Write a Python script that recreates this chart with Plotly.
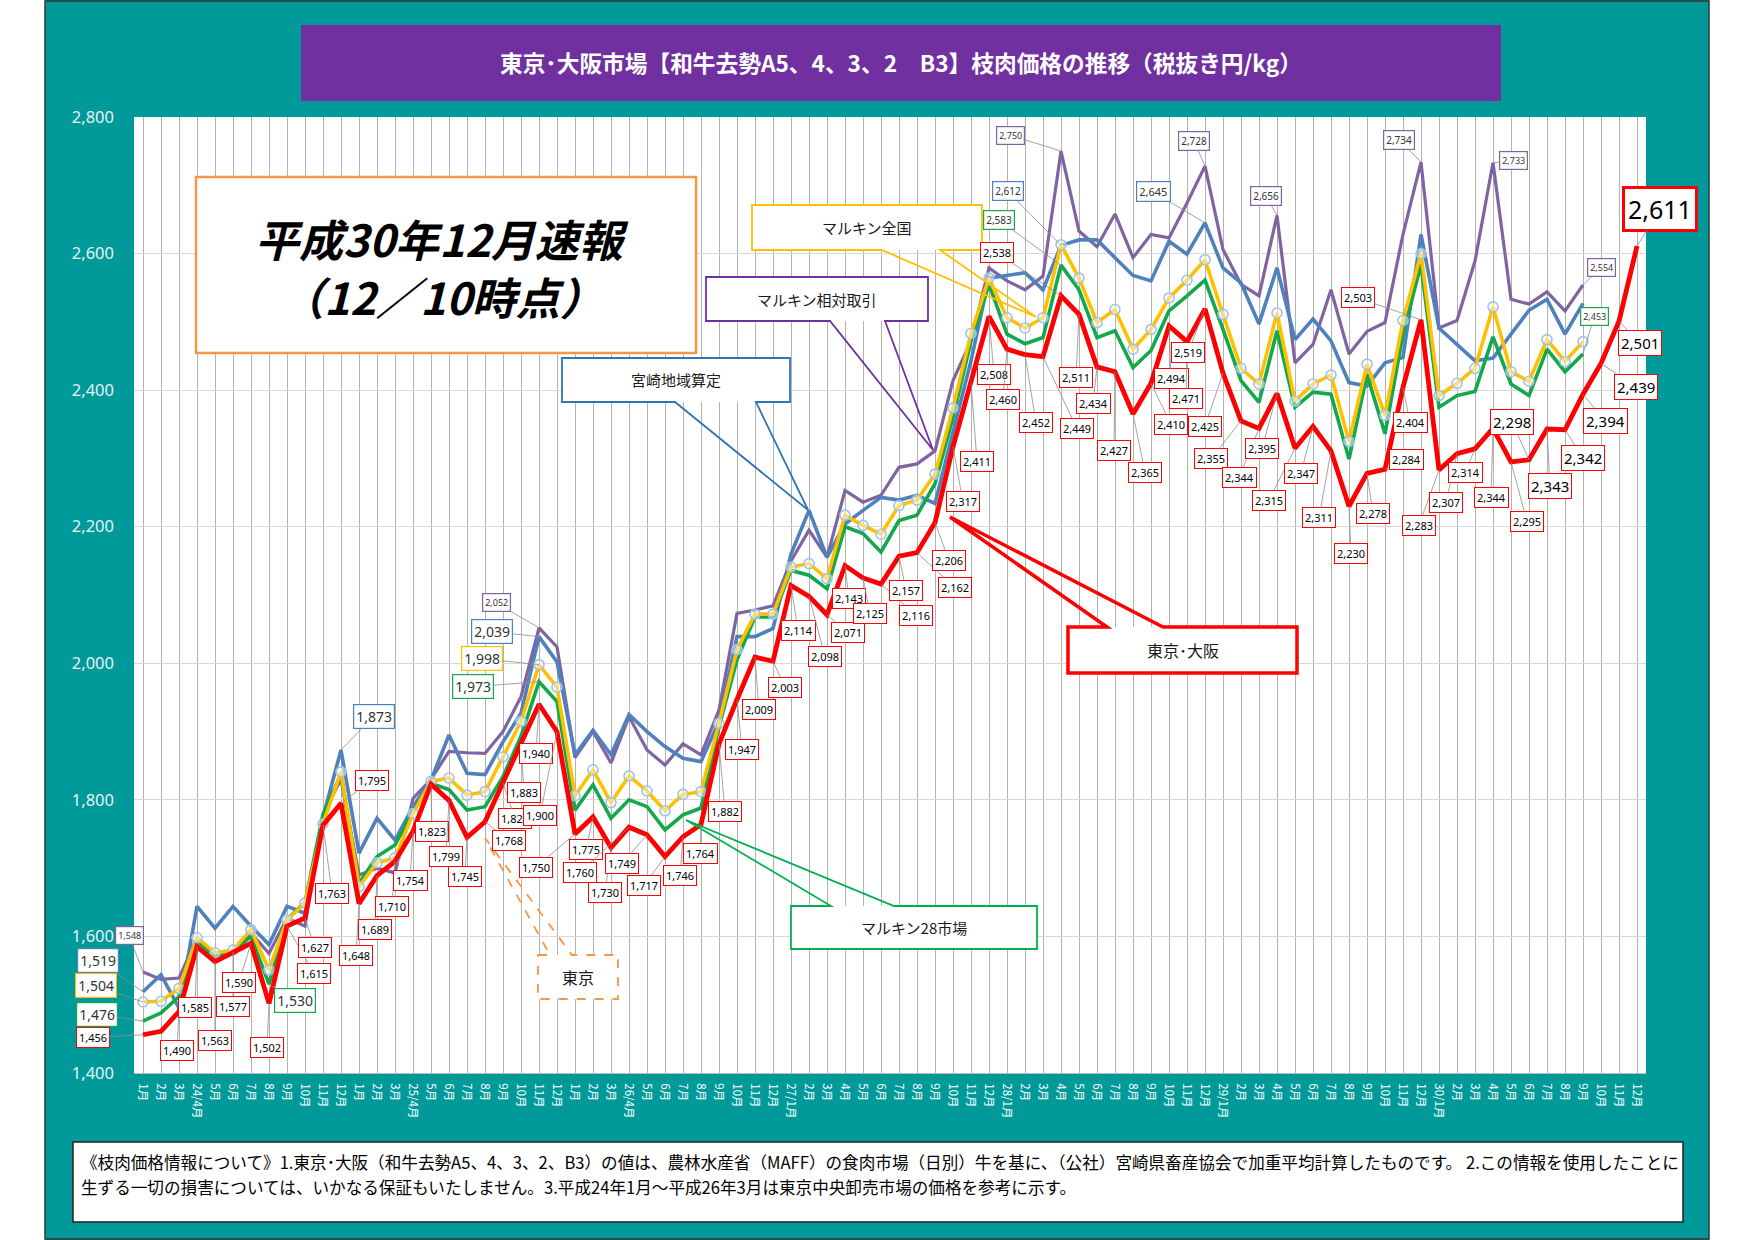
import plotly.graph_objects as go

# ---------------- data ----------------
tick_labels = [
    "1月", "2月", "3月", "24/4月", "5月", "6月", "7月", "8月", "9月", "10月", "11月", "12月",
    "1月", "2月", "3月", "25/4月", "5月", "6月", "7月", "8月", "9月", "10月", "11月", "12月",
    "1月", "2月", "3月", "26/4月", "5月", "6月", "7月", "8月", "9月", "10月", "11月", "12月",
    "27/1月", "2月", "3月", "4月", "5月", "6月", "7月", "8月", "9月", "10月", "11月", "12月",
    "28/1月", "2月", "3月", "4月", "5月", "6月", "7月", "8月", "9月", "10月", "11月", "12月",
    "29/1月", "2月", "3月", "4月", "5月", "6月", "7月", "8月", "9月", "10月", "11月", "12月",
    "30/1月", "2月", "3月", "4月", "5月", "6月", "7月", "8月", "9月", "10月", "11月", "12月",
]
month_index = list(range(len(tick_labels)))

# 東京・大阪 (red)
tokyo_osaka = [
    1456, 1461, 1490, 1585, 1563, 1577, 1590, 1502, 1615, 1627, 1763, 1795,
    1648, 1689, 1710, 1754, 1823, 1799, 1745, 1768, 1825, 1883, 1940, 1900,
    1750, 1775, 1730, 1760, 1749, 1717, 1746, 1764, 1882, 1947, 2009, 2003,
    2114, 2098, 2071, 2143, 2125, 2116, 2157, 2162, 2206, 2317, 2411, 2508,
    2460, 2452, 2449, 2538, 2511, 2434, 2427, 2365, 2410, 2494, 2471, 2519,
    2425, 2355, 2344, 2395, 2315, 2347, 2311, 2230, 2278, 2284, 2404, 2503,
    2283, 2307, 2314, 2344, 2295, 2298, 2343, 2342, 2394, 2439, 2501, 2611,
]
# マルキン相対取引 (purple)
marukin_aitai = [
    1548, 1537, 1539, 1598, 1572, 1580, 1605, 1575, 1627, 1615, 1780, 1830,
    1690, 1700, 1693, 1802, 1830, 1871, 1869, 1868, 1900, 1951, 2052, 2024,
    1862, 1900, 1854, 1922, 1873, 1851, 1882, 1866, 1932, 2073, 2078, 2084,
    2150, 2195, 2155, 2253, 2236, 2246, 2287, 2292, 2311, 2414, 2472, 2579,
    2560, 2547, 2567, 2750, 2633, 2610, 2658, 2594, 2628, 2623, 2674, 2728,
    2606, 2555, 2538, 2656, 2440, 2467, 2547, 2453, 2486, 2499, 2628, 2734,
    2491, 2502, 2589, 2733, 2533, 2526, 2544, 2516, 2554,
]
# 宮崎地域算定 (blue)
miyazaki = [
    1519, 1544, 1495, 1644, 1612, 1644, 1615, 1588, 1644, 1634, 1775, 1873,
    1722, 1773, 1741, 1790, 1829, 1895, 1839, 1837, 1885, 1927, 2039, 2002,
    1866, 1902, 1866, 1925, 1900, 1878, 1861, 1856, 1915, 2039, 2039, 2051,
    2160, 2224, 2155, 2204, 2224, 2243, 2239, 2246, 2234, 2340, 2443, 2564,
    2568, 2572, 2547, 2612, 2620, 2620, 2594, 2568, 2560, 2618, 2599, 2645,
    2579, 2557, 2497, 2579, 2474, 2504, 2472, 2411, 2406, 2440, 2448, 2628,
    2491, 2467, 2443, 2447, 2482, 2517, 2533, 2482, 2527,
]
# マルキン全国 (yellow)
marukin_zenkoku = [
    1504, 1505, 1524, 1598, 1576, 1580, 1610, 1551, 1624, 1649, 1765, 1841,
    1673, 1708, 1715, 1780, 1827, 1832, 1807, 1812, 1863, 1915, 1998, 1965,
    1806, 1844, 1796, 1835, 1813, 1784, 1808, 1812, 1912, 2020, 2072, 2072,
    2141, 2146, 2124, 2217, 2202, 2189, 2231, 2239, 2277, 2374, 2483, 2564,
    2506, 2491, 2506, 2613, 2564, 2499, 2518, 2460, 2489, 2535, 2561, 2591,
    2511, 2432, 2409, 2513, 2384, 2409, 2422, 2325, 2438, 2363, 2502, 2600,
    2392, 2410, 2432, 2522, 2427, 2413, 2474, 2442, 2471,
]
# マルキン28市場 (green)
marukin_28 = [
    1476, 1488, 1512, 1593, 1570, 1578, 1600, 1530, 1625, 1650, 1778, 1837,
    1678, 1717, 1734, 1783, 1824, 1815, 1785, 1790, 1834, 1893, 1973, 1944,
    1785, 1822, 1773, 1800, 1790, 1756, 1778, 1788, 1907, 2005, 2068, 2068,
    2136, 2129, 2109, 2200, 2190, 2163, 2209, 2217, 2263, 2360, 2472, 2555,
    2482, 2468, 2477, 2583, 2547, 2477, 2487, 2433, 2458, 2516, 2538, 2561,
    2489, 2414, 2382, 2487, 2375, 2397, 2394, 2299, 2423, 2336, 2482, 2584,
    2375, 2392, 2398, 2478, 2409, 2392, 2460, 2427, 2453,
]
y_ticks = [1400, 1600, 1800, 2000, 2200, 2400, 2600, 2800]

# ---------------- style ----------------
TEAL = "#00999A"
RED = "#FF0000"
GREEN = "#12A84B"
YELLOW = "#FFC000"
BLUE = "#4F81BD"
PURPLE = "#8064A2"
JP = "Noto Sans CJK JP"
NUM = "Liberation Sans Narrow, Noto Sans, sans-serif"

FIG_W, FIG_H = 1754, 1240
L, R, T, B = 134, 1646, 117, 1073


def px(x):
    return (x - L) / (R - L)


def py(y):
    return (B - y) / (B - T)


# label offsets (pixels) for the red series labels; None = no label
red_label_offsets = [
    (-50, 3), None, (-2, 39), (-2, 61), (0, 79), (0, 54), (-12, 39), (-2, 44), (27, 47), (10, 30), (9, 68), (31, -23),
    (-3, 52), (-2, 54), (-3, 45), (-3, 49), (1, 47), (-3, 56), (-2, 39), (24, 19), (12, 36), (3, 49), (-3, 49), (-17, 84),
    (-39, 33), (-7, 33), (-6, 45), (-49, 45), (-25, 29), (-21, 29), (-3, 39), (-1, 29), (6, 68), (5, 50), (4, 52), (12, 26),
    (7, 45), (16, 60), (21, 18), (4, 33), (7, 36), (35, 31), (7, 34), (38, 35), (14, 38), (10, 55), (6, 79), (5, 58),
    (-4, 50), (11, 68), (34, 72), (-64, -43), (-3, 63), (-4, 37), (-1, 79), (12, 58), (20, 41), (2, 53), (-1, 57), (-17, 44),
    (-18, 53), (-30, 38), (-20, 49), (-15, 55), (-26, 52), (-12, 47), (-12, 67), (2, 47), (6, 40), (21, -10), (7, 35), (-63, -22),
    (-20, 55), (-11, 49), (-10, 24), (-2, 69), (16, 60), (-17, -38), (3, 57), (18, 28), (22, 27), (35, 23), (21, 22), (23, -37),
]
red_label_sizes = [11] * 77 + [15, 15, 15, 15, 15, 15, 25]

series_by_key = {
    "purple": (marukin_aitai, PURPLE),
    "blue": (miyazaki, BLUE),
    "yellow": (marukin_zenkoku, YELLOW),
    "green": (marukin_28, GREEN),
}
# (series, index, dx, dy, font size)
other_labels = [
    ("purple", 0, -14, -36, 9), ("blue", 0, -45, -31, 14), ("yellow", 0, -47, -16, 14),
    ("green", 0, -46, -7, 14), ("green", 7, 26, 16, 14), ("blue", 11, 33, -34, 14),
    ("purple", 22, -43, -25, 9), ("blue", 22, -47, -5, 14), ("yellow", 22, -57, -6, 14),
    ("green", 22, -66, 5, 14), ("purple", 51, -51, -16, 9), ("blue", 51, -53, -54, 10),
    ("green", 51, -62, -45, 10), ("blue", 59, -52, -31, 11), ("purple", 59, -11, -25, 10),
    ("purple", 63, -11, -19, 10), ("purple", 71, -22, -22, 10), ("purple", 75, 20, -2, 9),
    ("purple", 80, 18, -17, 9), ("green", 80, 11, -37, 9),
]

fig = go.Figure()

fig.add_trace(go.Scatter(x=month_index[:len(marukin_aitai)], y=marukin_aitai, mode="lines",
                         line=dict(color=PURPLE, width=3.2), name="マルキン相対取引"))
fig.add_trace(go.Scatter(x=month_index[:len(miyazaki)], y=miyazaki, mode="lines",
                         line=dict(color=BLUE, width=3.6), name="宮崎地域算定"))
fig.add_trace(go.Scatter(x=month_index[:len(marukin_28)], y=marukin_28, mode="lines",
                         line=dict(color=GREEN, width=3.6), name="マルキン28市場"))
fig.add_trace(go.Scatter(x=month_index[:len(marukin_zenkoku)], y=marukin_zenkoku, mode="lines+markers",
                         line=dict(color=YELLOW, width=3.6),
                         marker=dict(symbol="circle", size=10, color="rgba(255,255,255,0.45)",
                                     line=dict(color="#9DC3E6", width=1.6)),
                         name="マルキン全国"))
fig.add_trace(go.Scatter(x=month_index, y=tokyo_osaka, mode="lines",
                         line=dict(color=RED, width=4.8), name="東京・大阪"))

annotations = []
shapes = []

# red data labels
for i, (v, off, fs) in enumerate(zip(tokyo_osaka, red_label_offsets, red_label_sizes)):
    if off is None:
        continue
    annotations.append(dict(
        x=month_index[i], y=v, xref="x", yref="y", text=f"{v:,}",
        showarrow=True, arrowhead=0, arrowwidth=0.8, arrowcolor="#8C8C8C",
        ax=off[0], ay=off[1], standoff=0,
        font=dict(size=fs, color="black", family=NUM),
        bgcolor="white", bordercolor=RED, borderwidth=3 if fs > 20 else 1,
        borderpad=2 if fs < 20 else 3,
    ))

for key, i, dx, dy, fs in other_labels:
    vals, col = series_by_key[key]
    annotations.append(dict(
        x=month_index[i], y=vals[i], xref="x", yref="y", text=f"{vals[i]:,}",
        showarrow=True, arrowhead=0, arrowwidth=0.8, arrowcolor="#8C8C8C",
        ax=dx, ay=dy, standoff=0,
        font=dict(size=fs, color="#333333", family=NUM),
        bgcolor="white", bordercolor=col, borderwidth=1.2, borderpad=2,
    ))

# page frame
shapes.append(dict(type="rect", xref="paper", yref="paper", x0=px(0), x1=px(45), y0=py(FIG_H), y1=py(0),
                   fillcolor="white", line=dict(width=0), layer="above"))
shapes.append(dict(type="rect", xref="paper", yref="paper", x0=px(1709), x1=px(FIG_W), y0=py(FIG_H), y1=py(0),
                   fillcolor="white", line=dict(width=0), layer="above"))
shapes.append(dict(type="rect", xref="paper", yref="paper", x0=px(45), x1=px(1709), y0=py(1239), y1=py(1),
                   fillcolor="rgba(0,0,0,0)", line=dict(color="#2A3A3A", width=1.5), layer="above"))
# title box
shapes.append(dict(type="rect", xref="paper", yref="paper", x0=px(301), x1=px(1501), y0=py(101), y1=py(25),
                   fillcolor="#7030A0", line=dict(width=0), layer="above"))
annotations.append(dict(x=px(901), y=py(63), xref="paper", yref="paper", showarrow=False,
                        text="<b>東京･大阪市場【和牛去勢A5、4、3、2　B3】枝肉価格の推移（税抜き円/kg）</b>",
                        font=dict(size=22.7, color="white", family=JP), xanchor="center", yanchor="middle"))
# footer box
shapes.append(dict(type="rect", xref="paper", yref="paper", x0=px(73), x1=px(1683), y0=py(1222), y1=py(1142),
                   fillcolor="white", line=dict(color="#222222", width=1.5), layer="above"))
annotations.append(dict(x=px(79), y=py(1162), xref="paper", yref="paper", showarrow=False,
                        text="《枝肉価格情報について》1.東京･大阪（和牛去勢A5、4、3、2、B3）の値は、農林水産省（MAFF）の食肉市場（日別）牛を基に、（公社）宮崎県畜産協会で加重平均計算したものです。 2.この情報を使用したことに",
                        font=dict(size=16.6, color="black", family=JP), xanchor="left", yanchor="middle"))
annotations.append(dict(x=px(79), y=py(1187), xref="paper", yref="paper", showarrow=False,
                        text="生ずる一切の損害については、いかなる保証もいたしません。3.平成24年1月～平成26年3月は東京中央卸売市場の価格を参考に示す。",
                        font=dict(size=16.6, color="black", family=JP), xanchor="left", yanchor="middle"))

# 速報 box
shapes.append(dict(type="rect", xref="paper", yref="paper", x0=px(196), x1=px(696), y0=py(353), y1=py(177),
                   fillcolor="white", line=dict(color="#F79646", width=2.5), layer="above"))
annotations.append(dict(x=px(442), y=py(238), xref="paper", yref="paper", showarrow=False,
                        text="<b><i>平成30年12月速報</i></b>",
                        font=dict(size=44, color="black", family=JP), xanchor="center", yanchor="middle"))
annotations.append(dict(x=px(442), y=py(296), xref="paper", yref="paper", showarrow=False,
                        text="<b><i>（12／10時点）</i></b>",
                        font=dict(size=44, color="black", family=JP), xanchor="center", yanchor="middle"))


def callout(text, box, side, base, tip, color, width=1.5, dash="solid", fsize=15):
    x0, y0, x1, y1 = box
    shapes.append(dict(type="rect", xref="paper", yref="paper", x0=px(x0), x1=px(x1), y0=py(y1), y1=py(y0),
                       fillcolor="white", line=dict(width=0), layer="above"))
    if side == "top":
        pts = [(x0, y0), (base[0], y0), tip, (base[1], y0), (x1, y0), (x1, y1), (x0, y1)]
    else:
        pts = [(x0, y0), (x1, y0), (x1, y1), (base[1], y1), tip, (base[0], y1), (x0, y1)]
    path = "M" + " L".join(f"{px(a):.5f},{py(b):.5f}" for a, b in pts) + " Z"
    shapes.append(dict(type="path", xref="paper", yref="paper", path=path,
                       fillcolor="rgba(0,0,0,0)", line=dict(color=color, width=width, dash=dash), layer="above"))
    annotations.append(dict(x=px((x0 + x1) / 2), y=py((y0 + y1) / 2), xref="paper", yref="paper",
                            showarrow=False, text=text, font=dict(size=fsize, color="#1A1A1A", family=JP),
                            xanchor="center", yanchor="middle"))


callout("マルキン全国", (752, 205, 982, 250), "bottom", (882, 940), (1036, 317), YELLOW, 1.8)
callout("マルキン相対取引", (706, 277, 928, 321), "bottom", (830, 885), (933, 450), "#7030A0", 1.8)
callout("宮崎地域算定", (562, 358, 790, 402), "bottom", (675, 756), (808, 510), "#2E75B6", 1.8)
callout("東京･大阪", (1068, 627, 1297, 673), "top", (1107, 1163), (950, 517), RED, 3.5, fsize=16)
callout("マルキン28市場", (791, 906, 1037, 949), "top", (831, 894), (686, 820), "#00B050", 1.8)
callout("東京", (538, 955, 618, 999), "top", (550, 572), (485, 838), "#F79646", 1.8, "dash", 16)

fig.update_layout(
    width=FIG_W, height=FIG_H, autosize=False,
    margin=dict(l=L, r=FIG_W - R, t=T, b=FIG_H - B, pad=0),
    paper_bgcolor=TEAL, plot_bgcolor="white",
    showlegend=False,
    annotations=annotations, shapes=shapes,
    xaxis=dict(range=[-0.5, 83.5], tickmode="array", tickvals=month_index, ticktext=tick_labels,
               tickangle=90, tickfont=dict(size=11.5, color="white", family=JP),
               showgrid=True, gridcolor="#B3B3B3", gridwidth=1, zeroline=False,
               showline=True, linecolor="#BFBFBF", ticks="", ticklabelstandoff=7, fixedrange=True),
    yaxis=dict(range=[1400, 2800], tickmode="array", tickvals=y_ticks,
               ticktext=[f"{v:,}" for v in y_ticks],
               tickfont=dict(size=16.5, color="#E6F3F3", family="Noto Sans"),
               showgrid=True, gridcolor="#D9D9D9", gridwidth=1, zeroline=False,
               ticks="", ticklabelstandoff=19, fixedrange=True),
)

fig.write_html("out.html",
               config={"displayModeBar": False},
               post_script="document.body.style.margin='0';document.body.style.padding='0';"
                           "document.documentElement.style.overflow='hidden';")
